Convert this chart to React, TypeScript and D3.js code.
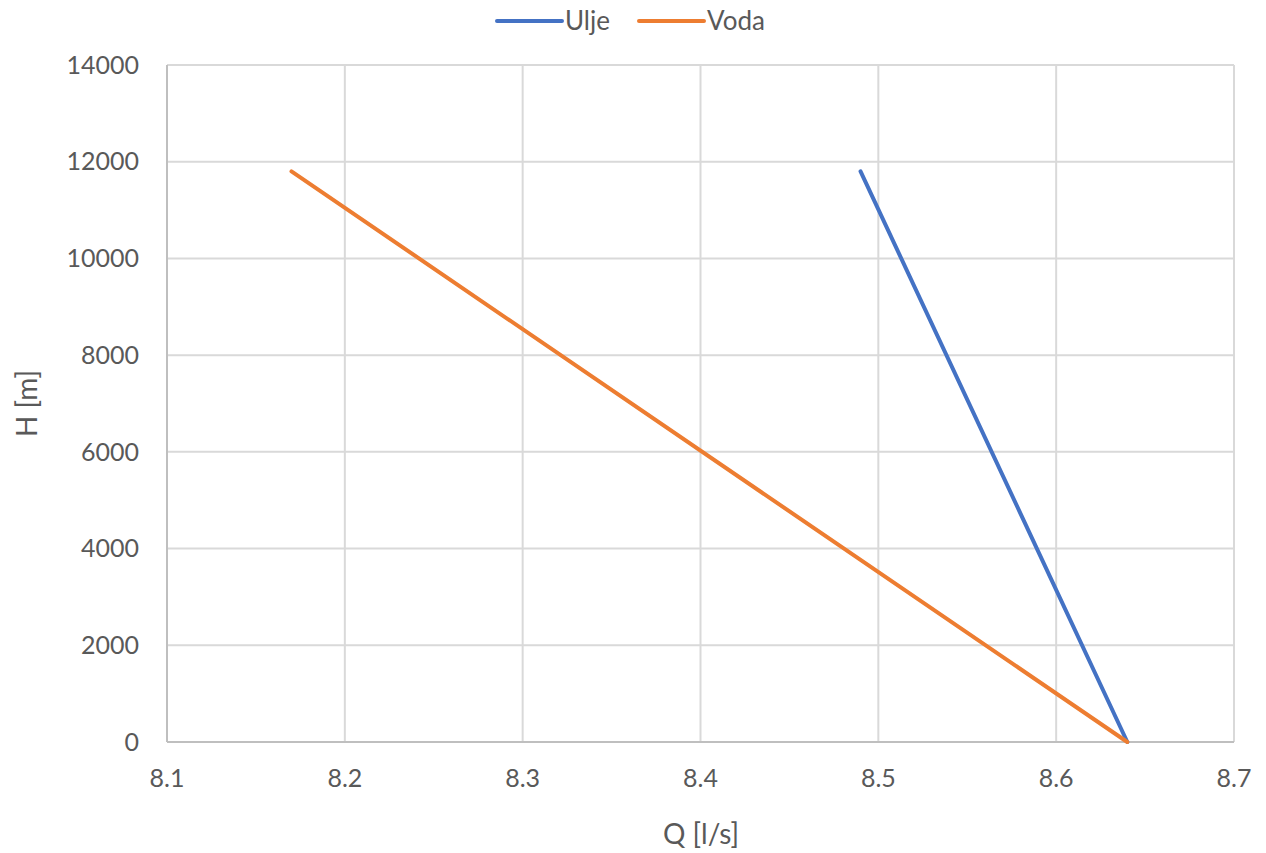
import { useEffect, useRef } from 'react';
import * as d3 from 'd3';

const W = 1266;
const H = 853;

const seriesNames = ['Ulje', 'Voda'];
const seriesColors = ['#4472c4', '#ed7d31'];
const uljeQ = [8.49, 8.64];
const uljeH = [11800, 0];
const vodaQ = [8.17, 8.64];
const vodaH = [11800, 0];
const xTicks = [8.1, 8.2, 8.3, 8.4, 8.5, 8.6, 8.7];
const yTicks = [0, 2000, 4000, 6000, 8000, 10000, 12000, 14000];

const FONT = 'Lato, "Open Sans", sans-serif';

export default function App() {
    const svgRef = useRef(null);

    useEffect(() => {
        const svg = d3.select(svgRef.current);
        svg.selectAll('*').remove();

        const left = 167, right = 1234, top = 65, bottom = 742;

        const x = d3.scaleLinear().domain([8.1, 8.7]).range([left, right]);
        const y = d3.scaleLinear().domain([0, 14000]).range([bottom, top]);

        // gridlines
        svg.append('g').selectAll('line.v')
            .data(xTicks)
            .join('line')
            .attr('x1', (d) => x(d)).attr('x2', (d) => x(d))
            .attr('y1', top).attr('y2', bottom)
            .attr('stroke', '#d9d9d9').attr('stroke-width', 2);
        svg.append('g').selectAll('line.h')
            .data(yTicks)
            .join('line')
            .attr('x1', left).attr('x2', right)
            .attr('y1', (d) => y(d)).attr('y2', (d) => y(d))
            .attr('stroke', '#d9d9d9').attr('stroke-width', 2);

        // axis lines
        svg.append('line')
            .attr('x1', left).attr('x2', right).attr('y1', bottom).attr('y2', bottom)
            .attr('stroke', '#bfbfbf').attr('stroke-width', 2);
        svg.append('line')
            .attr('x1', left).attr('x2', left).attr('y1', top).attr('y2', bottom)
            .attr('stroke', '#bfbfbf').attr('stroke-width', 2);

        // tick labels
        svg.append('g').selectAll('text')
            .data(yTicks)
            .join('text')
            .attr('x', 139).attr('y', (d) => y(d))
            .attr('dy', '0.35em')
            .attr('text-anchor', 'end')
            .attr('font-family', FONT).attr('font-size', 25).attr('fill', '#595959')
            .text((d) => d);
        svg.append('g').selectAll('text')
            .data(xTicks)
            .join('text')
            .attr('x', (d) => x(d)).attr('y', 787)
            .attr('text-anchor', 'middle')
            .attr('font-family', FONT).attr('font-size', 25).attr('fill', '#595959')
            .text((d) => d3.format('.1f')(d));

        // axis titles
        svg.append('text')
            .attr('x', 701).attr('y', 844)
            .attr('text-anchor', 'middle')
            .attr('font-family', FONT).attr('font-size', 28).attr('fill', '#595959')
            .text('Q [l/s]');
        svg.append('text')
            .attr('transform', `translate(37, ${(top + bottom) / 2}) rotate(-90)`)
            .attr('text-anchor', 'middle')
            .attr('font-family', FONT).attr('font-size', 28).attr('fill', '#595959')
            .text('H [m]');

        // series
        const line = d3.line<[number, number]>()
            .x((d) => x(d[0]))
            .y((d) => y(d[1]));
        const data = [
            d3.zip(uljeQ, uljeH) as [number, number][],
            d3.zip(vodaQ, vodaH) as [number, number][],
        ];
        data.forEach((pts, i) => {
            svg.append('path')
                .attr('d', line(pts))
                .attr('fill', 'none')
                .attr('stroke', seriesColors[i])
                .attr('stroke-width', 4)
                .attr('stroke-linecap', 'round');
        });

        // legend
        const legendX = [497, 639];
        seriesNames.forEach((name, i) => {
            const g = svg.append('g').attr('transform', `translate(${legendX[i]}, 21)`);
            g.append('line')
                .attr('x1', 0).attr('x2', 65)
                .attr('stroke', seriesColors[i]).attr('stroke-width', 4)
                .attr('stroke-linecap', 'round');
            g.append('text')
                .attr('x', 68).attr('dy', '0.35em')
                .attr('font-family', FONT).attr('font-size', 26).attr('fill', '#595959')
                .text(name);
        });
    }, []);

    return (
        <svg
            ref={svgRef}
            width={W}
            height={H}
            style={{ position: 'absolute', top: 0, left: 0, background: '#fff' }}
        />
    );
}
